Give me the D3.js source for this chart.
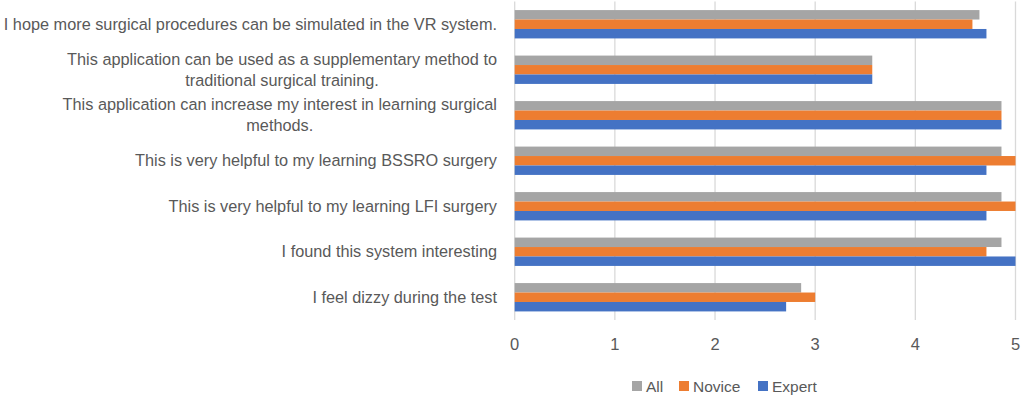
<!DOCTYPE html>
<html>
<head>
<meta charset="utf-8">
<script src="https://cdn.jsdelivr.net/npm/d3@7"></script>
<style>
  body { margin: 0; background: #fff; }
  text { font-family: "Liberation Sans", Arial, sans-serif; fill: #595959; }
</style>
</head>
<body>
<div id="chart"></div>
<script>
// survey statements, top to bottom ("\n" = line break like in the original)
const categories = [
  "I hope more surgical procedures can be simulated in the VR system.",
  "This application can be used as a supplementary method to\ntraditional surgical training.",
  "This application can increase my interest in learning surgical\nmethods.",
  "This is very helpful to my learning BSSRO surgery",
  "This is very helpful to my learning LFI surgery",
  "I found this system interesting",
  "I feel dizzy during the test"
];
const seriesNames = ["All", "Novice", "Expert"];
const allValues    = [4.64, 3.57, 4.86, 4.86, 4.86, 4.86, 2.86];
const noviceValues = [4.57, 3.57, 4.86, 5.00, 5.00, 4.71, 3.00];
const expertValues = [4.71, 3.57, 4.86, 4.71, 4.71, 5.00, 2.71];
const xTicks = [0, 1, 2, 3, 4, 5];
const colors = ["#A5A5A5", "#ED7D31", "#4472C4"];

const w = 1026, h = 398;
const margin = {top: 1.5, left: 514.7, right: 10.5, bottom: 78};

const svg = d3.select('#chart')
  .append('svg')
  .attr('width', w)
  .attr('height', h);

let x = d3.scaleLinear()
  .domain([0, 5])
  .range([margin.left, w - margin.right]);

let y = d3.scaleBand()
  .domain(categories)
  .range([margin.top, h - margin.bottom])
  .paddingInner(0.377)
  .paddingOuter(0.1885);

let ySub = d3.scaleBand()
  .domain(seriesNames)
  .range([0, y.bandwidth()]);

// gridlines
svg.append('g')
  .selectAll('line')
  .data(xTicks)
  .enter()
  .append('line')
  .attr('x1', d => x(d))
  .attr('x2', d => x(d))
  .attr('y1', margin.top)
  .attr('y2', h - margin.bottom)
  .attr('stroke', '#D9D9D9')
  .attr('stroke-width', 1.3);

// bars
let rows = categories.map((c, i) => ({
  cat: c,
  vals: [allValues[i], noviceValues[i], expertValues[i]]
}));

let groups = svg.append('g')
  .selectAll('g')
  .data(rows)
  .enter()
  .append('g')
  .attr('transform', d => 'translate(0,' + y(d.cat) + ')');

groups.selectAll('rect')
  .data(d => d.vals.map((v, j) => ({name: seriesNames[j], v: v, j: j})))
  .enter()
  .append('rect')
  .attr('x', x(0))
  .attr('y', d => ySub(d.name))
  .attr('width', d => x(d.v) - x(0))
  .attr('height', ySub.bandwidth())
  .attr('fill', d => colors[d.j]);

// category labels, right aligned
let labels = svg.append('g')
  .selectAll('text')
  .data(categories)
  .enter()
  .append('text')
  .attr('text-anchor', 'end')
  .attr('font-size', 16.3);

labels.each(function(d) {
  let lines = d.split('\n');
  let t = d3.select(this);
  let cy = y(d) + y.bandwidth() / 2;
  let lh = 21;
  lines.forEach((ln, k) => {
    let yy = cy + (k - (lines.length - 1) / 2) * lh + 5.5;
    t.append('tspan')
      .attr('x', 497)
      .attr('y', yy)
      .text(ln);
  });
});
// second line of wrapped labels is centred under the first
labels.filter(d => d.includes('\n')).each(function() {
  let sp = d3.select(this).selectAll('tspan').nodes();
  let w0 = sp[0].getComputedTextLength();
  let mid = 497 - w0 / 2;
  d3.select(sp[1]).attr('x', mid).attr('text-anchor', 'middle');
});

// x tick labels
svg.append('g')
  .selectAll('text')
  .data(xTicks)
  .enter()
  .append('text')
  .attr('x', d => x(d))
  .attr('y', 350)
  .attr('text-anchor', 'middle')
  .attr('font-size', 16.5)
  .text(d => d);

// legend
let legendX = [632, 679, 758];
let legend = svg.append('g')
  .selectAll('g')
  .data(seriesNames)
  .enter()
  .append('g')
  .attr('transform', (d, i) => 'translate(' + legendX[i] + ',381)');

legend.append('rect')
  .attr('width', 10)
  .attr('height', 10)
  .attr('fill', (d, i) => colors[i]);

legend.append('text')
  .attr('x', 14)
  .attr('y', 10.5)
  .attr('font-size', 15.5)
  .text(d => d);
</script>
</body>
</html>
